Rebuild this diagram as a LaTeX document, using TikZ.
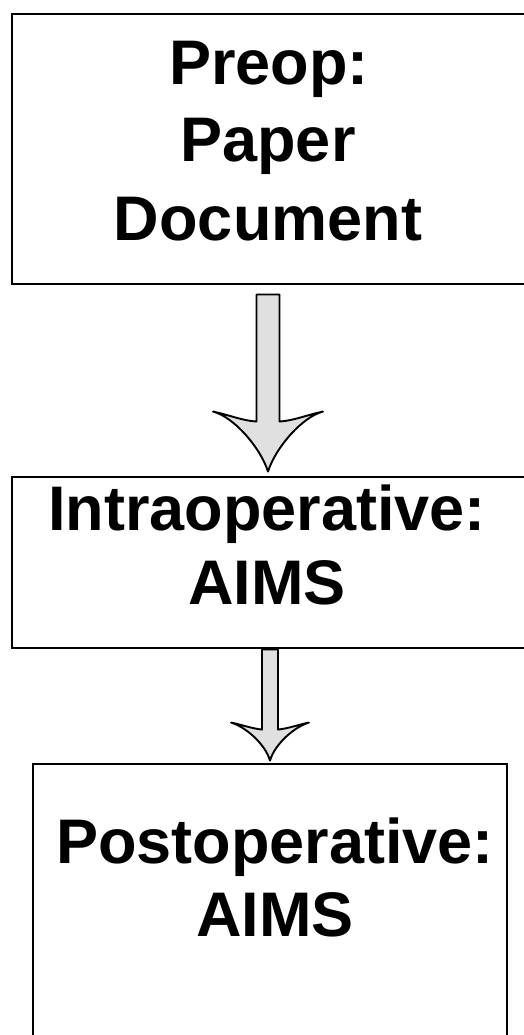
\documentclass[tikz,border=0pt]{standalone}
\usepackage{fontspec}
\setmainfont{Liberation Sans}
\usetikzlibrary{calc}
\definecolor{arrowgray}{RGB}{224,224,224}
\tikzset{
  boxnode/.style={draw=black, line width=2.9pt, inner sep=0pt, fill=white},
  lbl/.style={anchor=base, inner sep=0pt, font=\fontsize{63}{73}\selectfont\bfseries},
  barrow/.style={draw=black, line width=1.9pt, fill=arrowgray, line join=round}
}
\begin{document}
\begin{tikzpicture}[x=1pt,y=-1pt]
\useasboundingbox (0,0) rectangle (523,1035);
\fill[white] (0,0) rectangle (523,1035);

% boxes (boxes 1 and 2 run past the right edge, box 3 past the bottom)
\node[boxnode, minimum width=524pt, minimum height=270pt] (b1) at (274,149) {};
\node[boxnode, minimum width=524pt, minimum height=171pt] (b2) at (274,562.5) {};
\node[boxnode, minimum width=474pt, minimum height=286pt] (b3) at (270,907) {};

% texts
\node[lbl] (t1a) at (269,85) {Preop:};
\node[lbl] (t1b) at (268,162) {Paper};
\node[lbl] (t1c) at (268,240) {Document};
\node[lbl] (t2a) at (267,530) {Intraoperative:};
\node[lbl] (t2b) at (267,604) {AIMS};
\node[lbl] (t3a) at (275,863) {Postoperative:};
\node[lbl] (t3b) at (275,936) {AIMS};

% arrow 1
\coordinate (a1s) at ($(b1.south)+(-6,9)$);
\coordinate (a1t) at ($(b2.north)+(-6,-4)$);
\draw[barrow] ($(a1s)+(-11.5,0)$) -- ($(a1t)+(-11.5,-50)$)
  .. controls +(-15,-1) and +(15,3) .. ($(a1t)+(-55,-60)$)
  .. controls +(20,5) and +(-8,-25) .. (a1t)
  .. controls +(8,-25) and +(-20,5) .. ($(a1t)+(55,-60)$)
  .. controls +(-15,3) and +(15,-1) .. ($(a1t)+(11.5,-50)$)
  -- ($(a1s)+(11.5,0)$) -- cycle;

% arrow 2
\coordinate (a2s) at (b2.south -| b3.north);
\coordinate (a2t) at ($(b3.north)+(0,-2)$);
\draw[barrow] ($(a2s)+(-8,0)$) -- ($(a2t)+(-8,-31)$)
  .. controls +(-10,-1) and +(10,2) .. ($(a2t)+(-39,-38)$)
  .. controls +(14,4) and +(-5,-17) .. (a2t)
  .. controls +(5,-17) and +(-14,4) .. ($(a2t)+(39,-38)$)
  .. controls +(-10,2) and +(10,-1) .. ($(a2t)+(8,-31)$)
  -- ($(a2s)+(8,0)$) -- cycle;
\end{tikzpicture}
\end{document}
